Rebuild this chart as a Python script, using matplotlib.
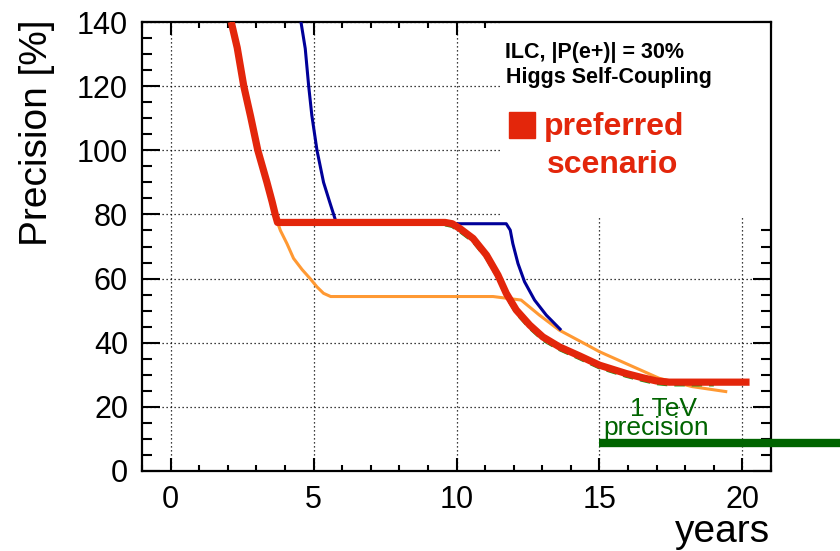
import matplotlib
matplotlib.use("Agg")
import matplotlib.pyplot as plt
from matplotlib.patches import Rectangle
from matplotlib.ticker import MultipleLocator

plt.rcParams['font.family'] = ['Liberation Sans', 'DejaVu Sans']

# ---- data (years, precision %) ----
red_x = [2.12, 2.33, 2.56, 2.8, 3.05, 3.37, 3.55, 3.66, 3.74, 9.6, 9.85, 10.12,
         10.58, 11.05, 11.45, 11.74, 12.09, 12.56, 13.02, 13.6, 14.3, 15.0,
         15.93, 16.5, 16.98, 17.44, 20.25]
red_y = [140, 132, 120, 110.5, 100, 90, 84, 80, 77.5, 77.5, 77.1, 75.6,
         72.5, 67.3, 61.1, 55.4, 50.2, 45.5, 41.8, 38.7, 35.9, 33.0,
         30.4, 29.1, 28.1, 27.7, 27.7]

green_x = [9.6, 9.85, 10.12, 10.58, 11.05, 11.45, 11.74, 12.09, 12.56, 13.02,
           13.6, 14.3, 15.0, 15.93, 16.5, 16.98, 17.44, 19.0]
green_y = [76.8, 76.3, 74.7, 71.6, 66.4, 60.2, 54.5, 49.3, 44.6, 40.9,
           37.9, 35.1, 32.2, 29.6, 28.3, 27.3, 26.9, 26.9]

blue_x = [4.56, 4.71, 4.83, 4.94, 5.12, 5.35, 5.56, 5.76, 5.85, 11.74, 11.88,
          11.97, 12.15, 12.38, 12.73, 13.14, 13.66]
blue_y = [140, 131.7, 120, 110.9, 100, 90, 84, 78.4, 77.1, 77.1, 75.1,
          70.9, 64.7, 59, 53.3, 48.6, 43.9]

orange_x = [2.12, 2.56, 3.05, 3.55, 3.74, 3.84, 4.07, 4.3, 4.6, 4.88, 5.12,
            5.35, 5.6, 11.28, 12.26, 12.9, 13.6, 14.42, 15.0, 15.93, 17.09,
            18.25, 19.47]
orange_y = [140, 120, 100, 84, 77.5, 75, 70.9, 66.3, 62.8, 60, 57.4,
            55.4, 54.4, 54.4, 53.3, 48.6, 43.9, 40.0, 37.2, 33.5, 28.9,
            26.3, 24.7]

tev_x = [15.0, 23.4]
tev_y = [8.6, 8.6]

x_major = [0, 5, 10, 15, 20]
y_major = [0, 20, 40, 60, 80, 100, 120, 140]

RED = '#e3260b'
BLUE = '#000099'
ORANGE = '#ff9933'
GREEN = '#1a9a1a'
DKGREEN = '#006400'

fig = plt.figure(figsize=(8.4, 5.51), dpi=100)
ax = fig.add_axes([142/840, 80/551, 629/840, 449/551])
ax.set_xlim(-1, 21)
ax.set_ylim(0, 140)

ax.set_xticks(x_major)
ax.set_yticks(y_major)
ax.xaxis.set_minor_locator(MultipleLocator(1))
ax.yaxis.set_minor_locator(MultipleLocator(5))
ax.tick_params(which='both', direction='in', top=True, right=True,
               width=1.5, labelsize=22)
ax.tick_params(axis='x', which='major', length=9.5, pad=10)
ax.tick_params(axis='x', which='minor', length=4.5)
ax.tick_params(axis='y', which='major', length=13, pad=10)
ax.tick_params(axis='y', which='minor', length=7)
for s in ax.spines.values():
    s.set_linewidth(1.6)

ax.set_axisbelow(True)
ax.grid(True, which='major', color='black', linestyle=(0, (1, 2.2)), linewidth=0.9)

# white box behind the labels (covers grid)
ax.add_patch(Rectangle((0.569, 0.5657), 0.431, 0.4343, transform=ax.transAxes,
                       facecolor='white', edgecolor='none', zorder=1))

ax.plot(orange_x, orange_y, color=ORANGE, lw=2.2, zorder=3, solid_capstyle='butt')
ax.plot(blue_x, blue_y, color=BLUE, lw=2.2, zorder=3, solid_capstyle='butt')
ax.plot(green_x, green_y, color=GREEN, lw=2.5, linestyle=(0, (3, 2)), zorder=4)
ax.plot(red_x, red_y, color=RED, lw=5.2, zorder=5, solid_capstyle='butt',
        solid_joinstyle='round')
ax.plot(tev_x, tev_y, color=DKGREEN, lw=6, zorder=5, clip_on=False,
        solid_capstyle='butt')

ax.text(11.68, 128.7, 'ILC, |P(e+)| = 30%', fontsize=15.5, fontweight='bold',
        ha='left', va='baseline', zorder=6)
ax.text(11.72, 120.9, 'Higgs Self-Coupling', fontsize=15.5, fontweight='bold',
        ha='left', va='baseline', zorder=6)
ax.plot([0.604], [0.7706], marker='s', markersize=19, color=RED,
        transform=ax.transAxes, zorder=6, clip_on=False)
ax.text(13.05, 104.7, 'preferred', fontsize=23, fontweight='bold', color=RED,
        ha='left', va='baseline', zorder=6)
ax.text(13.18, 92.8, 'scenario', fontsize=23, fontweight='bold', color=RED,
        ha='left', va='baseline', zorder=6)

ax.text(17.23, 17.3, '1 TeV', fontsize=19, color=DKGREEN, ha='center',
        va='baseline', zorder=6)
ax.text(16.98, 11.2, 'precision', fontsize=19, color=DKGREEN, ha='center',
        va='baseline', zorder=6)

fig.text(37/840, 1 - 132.5/551, 'Precision [%]', fontsize=28, rotation=90,
         ha='center', va='center')
fig.text(770/840, 1 - 541.7/551, 'years', fontsize=28, ha='right', va='baseline')

fig.savefig('out.png', dpi=100)
